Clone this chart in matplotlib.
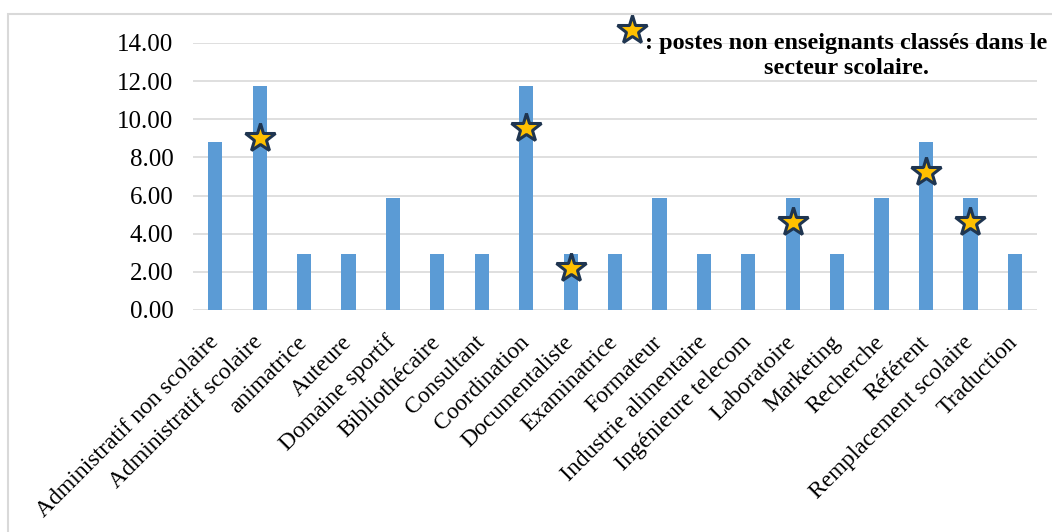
import matplotlib.pyplot as plt
from matplotlib.patches import Rectangle
from matplotlib.lines import Line2D

# Data
categories = ['Administratif non scolaire', 'Administratif scolaire', 'animatrice', 'Auteure',
              'Domaine sportif', 'Bibliothécaire', 'Consultant', 'Coordination', 'Documentaliste',
              'Examinatrice', 'Formateur', 'Industrie alimentaire', 'Ingénieure telecom',
              'Laboratoire', 'Marketing', 'Recherche', 'Référent', 'Remplacement scolaire',
              'Traduction']
values = [8.82, 11.76, 2.94, 2.94, 5.88, 2.94, 2.94, 11.76, 2.94, 2.94, 5.88, 2.94, 2.94,
          5.88, 2.94, 5.88, 8.82, 5.88, 2.94]

# star markers (non-teaching posts in school sector)
star_categories = ['Administratif scolaire', 'Coordination', 'Documentaliste',
                   'Laboratoire', 'Référent', 'Remplacement scolaire']
star_values = [9.02, 9.55, 2.19, 4.63, 7.25, 4.63]

yticks = [0, 2, 4, 6, 8, 10, 12, 14]
legend_text = ': postes non enseignants classés dans le\nsecteur scolaire.'

plt.rcParams['font.family'] = 'Liberation Serif'

fig = plt.figure(figsize=(10.52, 5.32), dpi=100)
ax = fig.add_axes([0.1835, 0.4173, 0.8023, 0.5019])

x = list(range(len(categories)))
ax.bar(x, values, width=0.32, color='#5b9bd5', zorder=2)

star_x = [categories.index(c) for c in star_categories]
ax.plot(star_x, star_values, linestyle='none', marker='*', markersize=22,
        markerfacecolor='#ffc000', markeredgecolor='#1f3550', markeredgewidth=2.2, zorder=3)

ax.set_xlim(-0.5, len(categories) - 0.5)
ax.set_ylim(0, 14)
ax.set_yticks(yticks)
ax.set_yticklabels(['%.2f' % v for v in yticks], fontsize=18)
ax.set_xticks(x)
ax.set_xticklabels(categories, rotation=45, ha='right', va='center', rotation_mode='anchor',
                   fontsize=17)
ax.tick_params(length=0)
ax.tick_params(axis='x', pad=21)
ax.tick_params(axis='y', pad=14)
ax.grid(axis='y', color='#d9d9d9', linewidth=1.2, zorder=0)
for s in ax.spines.values():
    s.set_visible(False)

# outer border of the chart area
fig.add_artist(Rectangle((8 / 1052, -0.1), 1.2, 1 - 14 / 532 + 0.1, transform=fig.transFigure,
                         fill=False, edgecolor='#d9d9d9', linewidth=1.5))

# legend note
fig.add_artist(Line2D([632 / 1052], [1 - 30 / 532], transform=fig.transFigure, marker='*',
                      markersize=22, markerfacecolor='#ffc000', markeredgecolor='#1f3550',
                      markeredgewidth=2.2, linestyle='none'))
fig.text(846 / 1052, 1 - 56 / 532, legend_text, ha='center', va='center', multialignment='center',
         fontsize=17.5, fontweight='bold', linespacing=1.2)

plt.savefig('out.png', dpi=100)
